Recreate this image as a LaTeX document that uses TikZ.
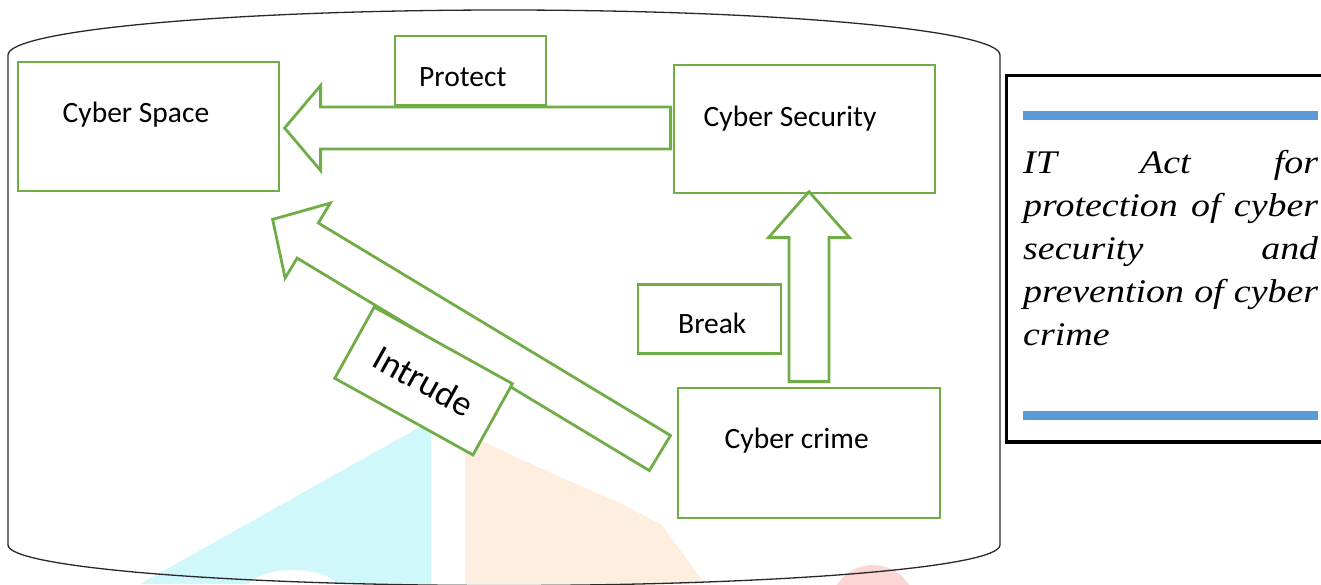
\documentclass[tikz,border=0pt]{standalone}
\usepackage{fontspec}
\setmainfont{Carlito}
\newfontfamily\actfont{Liberation Serif}[FakeStretch=1.15]
\usetikzlibrary{calc}
\definecolor{boxgreen}{RGB}{112,173,71}
\definecolor{rulerblue}{RGB}{91,155,213}
\definecolor{canline}{RGB}{40,40,40}
\definecolor{wmcyan}{RGB}{208,248,250}
\definecolor{wmpeach}{RGB}{253,238,224}
\definecolor{wmred}{RGB}{250,214,212}

\tikzset{
  greenbox/.style={draw=boxgreen, line width=2.8pt, fill=white, rectangle, inner sep=0pt},
  lbl/.style={font=\fontsize{29.5}{30}\selectfont, inner sep=0pt, anchor=base west},
  arrowline/.style={draw=boxgreen, line width=2.8pt, fill=white, line join=miter},
  actline/.style={font=\actfont\itshape\fontsize{33}{43}\selectfont, inner sep=0pt, anchor=base west},
  % block arrow along +x: length, shaft half-width, head half-width, head length
  pics/blockarrow/.style n args={4}{code={
    \path[arrowline] (0,{-#2}) -- ({#1-#4},{-#2}) -- ({#1-#4},{-#3}) -- (#1,0)
      -- ({#1-#4},#3) -- ({#1-#4},#2) -- (0,#2) -- cycle;}},
}

\begin{document}
\begin{tikzpicture}[x=1pt,y=-1pt]
\useasboundingbox (0,0) rectangle (1321,584);
\clip (0,0) rectangle (1321,584);

% faint background logo
\fill[wmcyan] (418,428) -- (431,428) -- (431,584) -- (140,584) -- cycle;
\fill[white] (293,592) ellipse [x radius=48, y radius=22];
\fill[wmpeach] (465,433) -- (540,468) -- (620,503) -- (662,525) -- (705,584) -- (465,584) -- cycle;
\fill[wmred] (873,606) ellipse [x radius=42, y radius=41];

% the container
\draw[canline, line width=1.3pt]
  (8,55) .. controls (8,30.15) and (230.1,10) .. (504,10)
  .. controls (777.9,10) and (1000,30.15) .. (1000,55)
  -- (1000,545) .. controls (1000,567.4) and (777.9,585.5) .. (504,585.5)
  .. controls (230.1,585.5) and (8,567.4) .. (8,545) -- cycle;

% main boxes
\node[greenbox, minimum width=261pt, minimum height=129pt] (space) at (148.5,126.5) {};
\node[greenbox, minimum width=261pt, minimum height=128pt] (security) at (804.5,129) {};
\node[greenbox, minimum width=262pt, minimum height=130pt] (crime) at (809,453) {};

% block arrows
\pic[rotate=180] at ($(security.west)+(-2,-1)$) {blockarrow={386}{21}{42.5}{36}};
\pic[rotate=90] at ($(crime.north)+(0,-5)$) {blockarrow={190}{20}{40.5}{46}};
\pic[rotate=148.9] at ($(crime.west)+(-16.7,0)$) {blockarrow={452.3}{20.5}{43.75}{41}};

% verb boxes
\node[greenbox, minimum width=151pt, minimum height=69pt] (protect) at (470.5,70.5) {};
\node[greenbox, minimum width=143pt, minimum height=69pt] (break) at (709.5,318.8) {};
\node[greenbox, minimum width=158pt, minimum height=81.4pt, rotate=-29,
      font=\fontsize{36}{40}\selectfont] (intrude) at (423.6,381) {Intrude};

% labels
\node[lbl] (spacetext) at (62.5,122.7) {Cyber Space};
\node[lbl] (protecttext) at (419,86) {Protect};
\node[lbl] (sectext) at (703.5,126.7) {Cyber Security};
\node[lbl] (breaktext) at (678,333.3) {Break};
\node[lbl] (crimetext) at (724.5,448.3) {Cyber crime};

% side panel
\draw[black, line width=3.2pt] (1006.5,75.5) rectangle (1340,442);
\draw[rulerblue, line width=9pt] (1022.7,115.5) -- (1318.3,115.5);
\draw[rulerblue, line width=9pt] (1022.7,415.3) -- (1318.3,415.3);
\node[actline] (act1) at (1023,173.3) {\hbox to 295pt{IT\hfill Act\hfill for}};
\node[actline] (act2) at (1023,216.3) {\hbox to 295pt{protection\hfill of\hfill cyber}};
\node[actline] (act3) at (1023,259.3) {\hbox to 295pt{security\hfill and}};
\node[actline] (act4) at (1023,302.3) {\hbox to 295pt{prevention\hfill of\hfill cyber}};
\node[actline] (act5) at (1023,345.3) {crime};
\end{tikzpicture}
\end{document}
